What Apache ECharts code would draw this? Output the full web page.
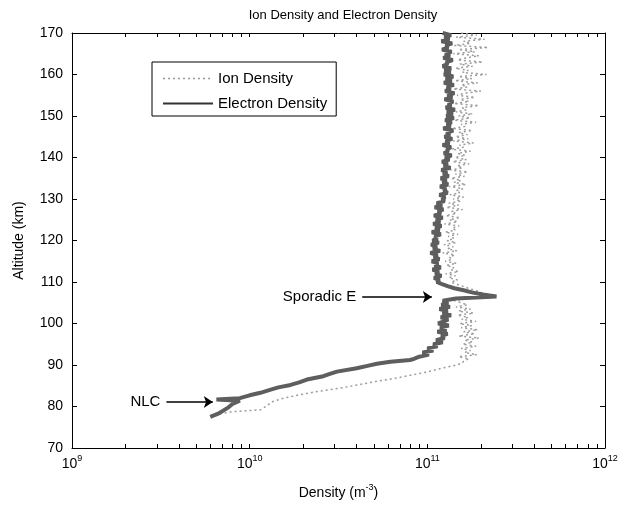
<!DOCTYPE html>
<html>
<head>
<meta charset="utf-8">
<script src="https://cdn.jsdelivr.net/npm/echarts@6/dist/echarts.min.js"></script>
<style>
html, body { margin: 0; background: #fff; }
#chart { width: 633px; height: 508px; }
</style>
</head>
<body>
<div id="chart"></div>
<script>
// altitude grid (km) for the upper part of both profiles
const gridAlt = [
    170, 169.5, 169, 168.5, 168, 167.5, 167, 166.5, 166, 165.5,
    165, 164.5, 164, 163.5, 163, 162.5, 162, 161.5, 161, 160.5,
    160, 159.5, 159, 158.5, 158, 157.5, 157, 156.5, 156, 155.5,
    155, 154.5, 154, 153.5, 153, 152.5, 152, 151.5, 151, 150.5,
    150, 149.5, 149, 148.5, 148, 147.5, 147, 146.5, 146, 145.5,
    145, 144.5, 144, 143.5, 143, 142.5, 142, 141.5, 141, 140.5,
    140, 139.5, 139, 138.5, 138, 137.5, 137, 136.5, 136, 135.5,
    135, 134.5, 134, 133.5, 133, 132.5, 132, 131.5, 131, 130.5,
    130, 129.5, 129, 128.5, 128, 127.5, 127, 126.5, 126, 125.5,
    125, 124.5, 124, 123.5, 123, 122.5, 122, 121.5, 121, 120.5,
    120, 119.5, 119, 118.5, 118, 117.5, 117, 116.5, 116, 115.5,
    115, 114.5, 114, 113.5, 113, 112.5, 112, 111.5, 111, 110.5,
    110, 109.5, 109, 108.5, 108, 107.5, 107, 106.5, 106, 105.5,
    105, 104.5, 104, 103.5, 103, 102.5, 102, 101.5, 101, 100.5,
    100, 99.5, 99, 98.5, 98, 97.5, 97, 96.5, 96, 95.5,
    95, 94.5, 94, 93.5, 93, 92.5, 92
];

// electron density, units of 1e11 m^-3
const electronAlt = gridAlt.concat([
    91.5, 91.2, 90.8, 90.3, 89.8, 89.2, 88.4, 87.8, 87.3, 86.5, 85.8, 85.2,
    84.6, 84.0, 83.3, 82.7, 82.0, 81.7, 81.4, 80.6, 79.8, 79.0, 78.2, 77.5
]);
const electronDensity = [
    1.22, 1.36, 1.25, 1.33, 1.20, 1.38, 1.27, 1.31, 1.21, 1.37,
    1.26, 1.34, 1.23, 1.39, 1.28, 1.30, 1.22, 1.36, 1.25, 1.35,
    1.24, 1.40, 1.27, 1.37, 1.24, 1.41, 1.29, 1.35, 1.26, 1.42,
    1.30, 1.38, 1.25, 1.40, 1.31, 1.36, 1.27, 1.43, 1.29, 1.39,
    1.28, 1.41, 1.26, 1.37, 1.29, 1.35, 1.23, 1.40, 1.28, 1.34,
    1.25, 1.38, 1.27, 1.33, 1.22, 1.36, 1.29, 1.31, 1.24, 1.37,
    1.26, 1.33, 1.21, 1.30, 1.24, 1.35, 1.20, 1.29, 1.23, 1.32,
    1.19, 1.28, 1.22, 1.31, 1.18, 1.27, 1.24, 1.30, 1.17, 1.26,
    1.21, 1.25, 1.13, 1.21, 1.10, 1.23, 1.15, 1.19, 1.09, 1.22,
    1.12, 1.18, 1.08, 1.20, 1.11, 1.17, 1.06, 1.19, 1.10, 1.14,
    1.07, 1.16, 1.05, 1.13, 1.08, 1.18, 1.04, 1.14, 1.09, 1.17,
    1.06, 1.15, 1.10, 1.19, 1.07, 1.16, 1.11, 1.20, 1.09, 1.17,
    1.13, 1.21, 1.30, 1.42, 1.60, 1.78, 2.05, 2.45, 1.45, 1.22,
    1.31, 1.20, 1.34, 1.17, 1.30, 1.22, 1.36, 1.19, 1.31, 1.24,
    1.15, 1.32, 1.18, 1.28, 1.14, 1.30, 1.20, 1.25, 1.12, 1.22,
    1.08, 1.14, 1.00, 1.08, 0.94, 1.02, 0.90,
    0.84, 0.80, 0.62, 0.52, 0.46, 0.40, 0.31, 0.28, 0.26, 0.21, 0.19, 0.17,
    0.145, 0.13, 0.115, 0.10, 0.088, 0.065, 0.088, 0.080, 0.076, 0.071, 0.066, 0.060
];

// ion density, units of 1e11 m^-3
const ionAlt = gridAlt.concat([
    91.5, 91, 90.5,
    90.0, 89.2, 88.4, 87.6, 86.9, 86.0, 85.4, 84.8, 84.2, 83.6, 82.8, 82.0,
    81.2, 80.2, 79.2, 78.7, 77.9
]);
const ionDensity = [
    1.55, 1.90, 1.45, 2.10, 1.60, 1.75, 1.42, 2.20, 1.50, 1.85,
    1.40, 1.95, 1.65, 1.48, 2.05, 1.52, 1.80, 1.44, 1.70, 1.58,
    2.15, 1.50, 1.78, 1.43, 1.92, 1.55, 1.68, 1.40, 2.00, 1.62,
    1.47, 1.85, 1.53, 1.72, 1.41, 1.95, 1.57, 1.66, 1.45, 1.80,
    1.50, 1.74, 1.42, 1.88, 1.55, 1.63, 1.38, 1.79, 1.50, 1.68,
    1.44, 1.70, 1.40, 1.82, 1.52, 1.60, 1.37, 1.75, 1.48, 1.64,
    1.43, 1.66, 1.39, 1.72, 1.47, 1.58, 1.35, 1.69, 1.44, 1.62,
    1.36, 1.55, 1.41, 1.65, 1.33, 1.59, 1.45, 1.52, 1.34, 1.60,
    1.40, 1.55, 1.32, 1.50, 1.28, 1.58, 1.36, 1.46, 1.27, 1.53,
    1.33, 1.48, 1.25, 1.51, 1.38, 1.44, 1.26, 1.49, 1.31, 1.42,
    1.29, 1.45, 1.24, 1.40, 1.30, 1.47, 1.22, 1.43, 1.33, 1.38,
    1.26, 1.46, 1.28, 1.41, 1.35, 1.50, 1.27, 1.44, 1.32, 1.48,
    1.36, 1.45, 1.58, 1.70, 1.85, 2.00, 2.20, 2.40, 1.60, 1.42,
    1.55, 1.68, 1.45, 1.75, 1.50, 1.82, 1.48, 1.70, 1.56, 1.88,
    1.52, 1.78, 1.55, 1.92, 1.60, 1.85, 1.50, 1.95, 1.62, 1.80,
    1.58, 1.88, 1.55, 1.75, 1.62, 1.90, 1.50, 1.72, 1.60, 1.58,
    1.46, 1.20, 1.02, 0.82, 0.68, 0.51, 0.43, 0.36, 0.30, 0.24, 0.19, 0.155,
    0.135, 0.125, 0.115, 0.078, 0.062
];

const unit = 1e11;

// tick positions on the log axis
const decadeTicks = [1e9, 1e10, 1e11, 1e12];
const minorTicks = [];
[1e9, 1e10, 1e11].forEach(d => {
    for (let m = 1; m <= 9; m++) minorTicks.push(m * d);
});
minorTicks.push(1e12);

// annotation arrows: [from density, to density, altitude]
const sporadicArrow = [4.3e10, 1.06e11, 106.4];
const nlcArrow = [3.4e9, 6.2e9, 81.1];

const font = 'Liberation Sans';

function toPairs(dens, alt) {
    return dens.map((v, i) => [v * unit, alt[i]]);
}

// base text sits at the bottom of the line, exponent at its top
const baseStyle = { fontFamily: font, fontSize: 14, color: '#000', lineHeight: 17, verticalAlign: 'bottom' };
const supStyle = { fontFamily: font, fontSize: 9, color: '#000', lineHeight: 10, verticalAlign: 'top' };

const chart = echarts.init(document.getElementById('chart'));

const option = {
    backgroundColor: '#fff',
    animation: false,
    textStyle: { fontFamily: font, color: '#000' },
    title: {
        text: 'Ion Density and Electron Density',
        left: 338,
        textAlign: 'center',
        top: 4,
        textStyle: { fontFamily: font, fontSize: 13, fontWeight: 'normal', color: '#000' }
    },
    grid: { left: 72, right: 28, top: 33, bottom: 60 },
    legend: {
        orient: 'vertical',
        left: 152,
        top: 62,
        padding: [9, 9, 5, 10],
        itemGap: 10,
        itemWidth: 50,
        itemHeight: 14,
        borderColor: '#000',
        borderWidth: 1,
        backgroundColor: '#fff',
        textStyle: { fontFamily: font, fontSize: 15, color: '#000' },
        data: [
            { name: 'Ion Density', itemStyle: { opacity: 0 }, lineStyle: { width: 1.5, color: '#999', type: [2, 3], opacity: 1 } },
            { name: 'Electron Density', itemStyle: { opacity: 0 }, lineStyle: { width: 2, color: '#333', type: 'solid', opacity: 1 } }
        ]
    },
    xAxis: [
        {
            type: 'log',
            logBase: 10,
            min: 1e9,
            max: 1e12,
            name: '{a|Density (m}{s|-3}{a|)}',
            nameLocation: 'middle',
            nameGap: 35,
            nameTextStyle: {
                rich: { a: baseStyle, s: supStyle }
            },
            axisLine: { lineStyle: { color: '#000', width: 1 } },
            axisTick: { inside: true, length: 4, customValues: minorTicks, lineStyle: { color: '#000' } },
            axisLabel: {
                margin: 6,
                customValues: decadeTicks,
                formatter: v => '{b|10}{s|' + Math.round(Math.log10(v)) + '}',
                rich: { b: baseStyle, s: supStyle }
            },
            splitLine: { show: false }
        },
        {
            type: 'log',
            logBase: 10,
            min: 1e9,
            max: 1e12,
            position: 'top',
            axisLine: { lineStyle: { color: '#000', width: 1 } },
            axisTick: { inside: true, length: 4, customValues: minorTicks, lineStyle: { color: '#000' } },
            axisLabel: { show: false },
            splitLine: { show: false }
        }
    ],
    yAxis: [
        {
            type: 'value',
            min: 70,
            max: 170,
            interval: 10,
            name: 'Altitude (km)',
            nameLocation: 'middle',
            nameRotate: 90,
            nameGap: 46,
            nameTextStyle: { fontFamily: font, fontSize: 14, color: '#000' },
            axisLine: { show: true, lineStyle: { color: '#000', width: 1 } },
            axisTick: { show: true, inside: true, length: 5, lineStyle: { color: '#000' } },
            axisLabel: { margin: 9, fontFamily: font, fontSize: 14, color: '#000' },
            splitLine: { show: false }
        },
        {
            type: 'value',
            min: 70,
            max: 170,
            interval: 10,
            position: 'right',
            axisLine: { show: true, lineStyle: { color: '#000', width: 1 } },
            axisTick: { show: true, inside: true, length: 5, lineStyle: { color: '#000' } },
            axisLabel: { show: false },
            splitLine: { show: false }
        }
    ],
    series: [
        {
            name: 'Ion Density',
            type: 'line',
            showSymbol: false,
            symbol: 'none',
            data: toPairs(ionDensity, ionAlt),
            lineStyle: { color: '#9c9c9c', width: 1.5, type: [2, 3] },
            itemStyle: { color: '#9c9c9c' },
            z: 2
        },
        {
            name: 'Electron Density',
            type: 'line',
            showSymbol: false,
            symbol: 'none',
            data: toPairs(electronDensity, electronAlt),
            lineStyle: { color: '#5e5e5e', width: 4 },
            itemStyle: { color: '#333' },
            z: 3,
            markLine: {
                silent: true,
                symbol: ['none', 'arrow'],
                symbolSize: 9,
                lineStyle: { color: '#000', width: 1.5, type: 'solid' },
                label: {
                    show: true,
                    position: 'start',
                    distance: 6,
                    formatter: '{b}',
                    fontFamily: font,
                    fontSize: 15,
                    color: '#000'
                },
                data: [
                    [{ name: 'Sporadic E', coord: [sporadicArrow[0], sporadicArrow[2]] },
                     { coord: [sporadicArrow[1], sporadicArrow[2]] }],
                    [{ name: 'NLC', coord: [nlcArrow[0], nlcArrow[2]] },
                     { coord: [nlcArrow[1], nlcArrow[2]] }]
                ]
            }
        }
    ]
};

chart.setOption(option);
</script>
</body>
</html>
